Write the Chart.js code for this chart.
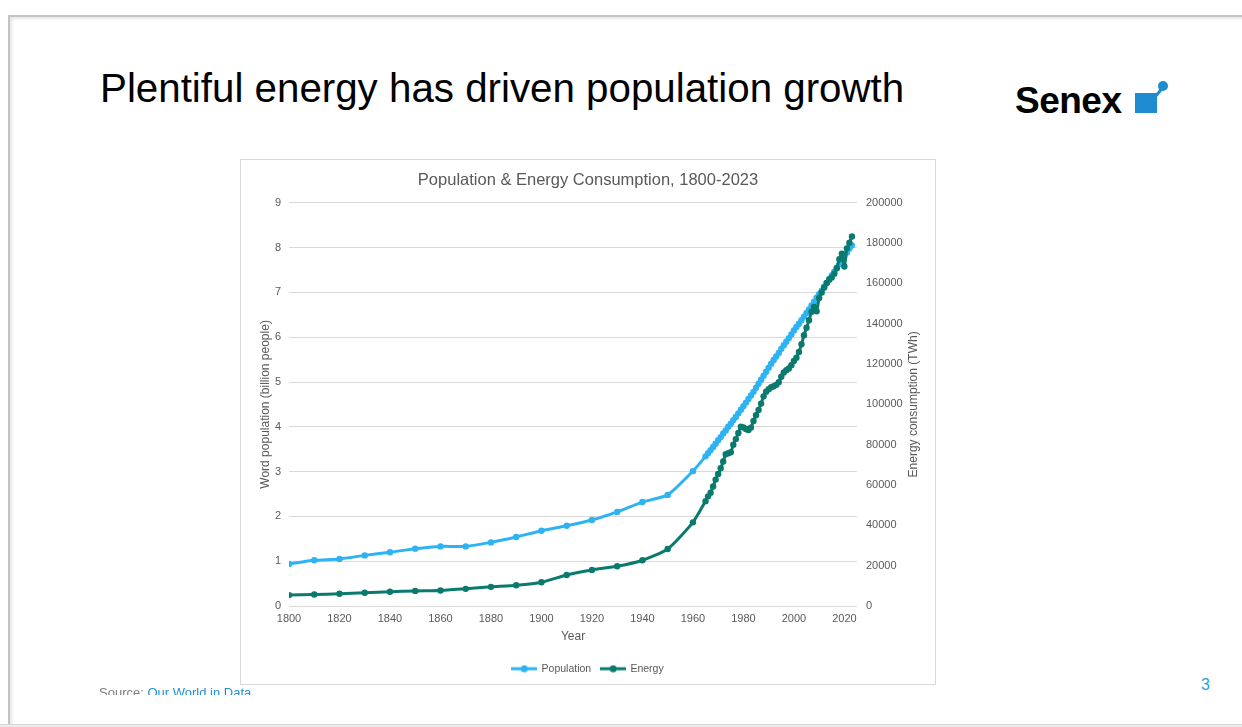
<!DOCTYPE html>
<html>
<head>
<meta charset="utf-8">
<script src="https://cdn.jsdelivr.net/npm/chart.js@4/dist/chart.umd.min.js"></script>
<style>
  html, body { margin: 0; padding: 0; background: #fff; }
  body { width: 1242px; height: 727px; position: relative; overflow: hidden; font-family: "Liberation Sans", Arial, sans-serif; }
  .slide { position: absolute; left: 8px; top: 15px; width: 1300px; height: 708px; border-left: 2px solid #c4c4c4; border-top: 2px solid #c4c4c4; box-shadow: inset 2px 2px 3px rgba(0,0,0,0.10); }
  .bottom { position: absolute; left: 0; top: 724px; width: 1242px; height: 3px; background: #ececec; border-top: 1px solid #d8d8d8; }
  .title { position: absolute; left: 100px; top: 69px; font-size: 40.3px; line-height: 1; color: #000; white-space: nowrap; }
  .logo { position: absolute; left: 1015px; top: 82px; font-size: 37px; line-height: 1; font-weight: bold; color: #000; letter-spacing: -0.5px; }
  .mark { position: absolute; left: 1135px; top: 93px; width: 22px; height: 20px; background: #1e8bd0; }
  .stem { position: absolute; left: 1153px; top: 85px; width: 3px; height: 12px; background: #1e8bd0; transform: rotate(40deg); transform-origin: bottom left; }
  .dot { position: absolute; left: 1158px; top: 81px; width: 10px; height: 10px; border-radius: 50%; background: #1e8bd0; }
  .box { position: absolute; left: 241px; top: 160px; width: 694px; height: 524px; outline: 1px solid #d9d9d9; }
  .source { position: absolute; left: 99px; top: 680px; width: 300px; height: 15px; overflow: hidden; }
  .source span { position: absolute; top: 5.5px; left: 0; font-size: 13px; line-height: 1; color: #808080; white-space: nowrap; }
  .source b { font-weight: normal; color: #1f8fd6; }
  .page { position: absolute; left: 1201px; top: 677px; font-size: 16px; line-height: 1; color: #2a9fd8; }
</style>
</head>
<body>
<div class="slide"></div>
<div class="bottom"></div>
<div class="title">Plentiful energy has driven population growth</div>
<div class="logo">Senex</div>
<div class="mark"></div>
<div class="stem"></div>
<div class="dot"></div>
<div class="box"><canvas id="chart" width="694" height="524"></canvas></div>
<div class="source"><span>Source: <b>Our World in Data</b></span></div>
<div class="page">3</div>
<script>
const years = [1800, 1810, 1820, 1830, 1840, 1850, 1860, 1870, 1880, 1890, 1900, 1910, 1920, 1930, 1940, 1950, 1960,
  1965, 1966, 1967, 1968, 1969, 1970, 1971, 1972, 1973, 1974, 1975, 1976, 1977, 1978, 1979,
  1980, 1981, 1982, 1983, 1984, 1985, 1986, 1987, 1988, 1989, 1990, 1991, 1992, 1993, 1994,
  1995, 1996, 1997, 1998, 1999, 2000, 2001, 2002, 2003, 2004, 2005, 2006, 2007, 2008, 2009,
  2010, 2011, 2012, 2013, 2014, 2015, 2016, 2017, 2018, 2019, 2020, 2021, 2022, 2023];

// billion people
const population = [0.94, 1.02, 1.05, 1.13, 1.20, 1.28, 1.33, 1.33, 1.42, 1.54, 1.68, 1.79, 1.92, 2.10, 2.32, 2.48, 3.01,
  3.34, 3.41, 3.48, 3.55, 3.62, 3.70, 3.77, 3.85, 3.92, 4.00, 4.07, 4.15, 4.22, 4.30, 4.38,
  4.46, 4.54, 4.62, 4.70, 4.78, 4.87, 4.96, 5.05, 5.14, 5.23, 5.32, 5.41, 5.49, 5.57, 5.65,
  5.74, 5.82, 5.90, 5.98, 6.06, 6.15, 6.23, 6.30, 6.38, 6.46, 6.54, 6.62, 6.71, 6.79, 6.88,
  6.96, 7.04, 7.13, 7.21, 7.30, 7.38, 7.46, 7.55, 7.63, 7.71, 7.82, 7.89, 7.98, 8.05];

// TWh
const energy = [5400, 5700, 6050, 6550, 7050, 7500, 7700, 8500, 9500, 10300, 11800, 15400, 17900, 19700, 22700, 28300, 41500,
  52000, 54400, 56200, 59300, 62700, 65500, 68300, 71700, 75300, 75800, 76300, 80000, 82800, 85800, 89000,
  88600, 87800, 87300, 88500, 91800, 94600, 97200, 100400, 104000, 106300, 107500, 108500, 109000, 109700, 111000,
  113700, 115800, 117000, 117800, 119400, 121500, 123200, 126000, 129800, 134300, 138000, 141800, 146000, 148400, 146200,
  152800, 155500, 158000, 160200, 161800, 163000, 164800, 167500, 172000, 174800, 168400, 177400, 180200, 183300];

const yearTicks = [1800, 1820, 1840, 1860, 1880, 1900, 1920, 1940, 1960, 1980, 2000, 2020];

const popColor = '#2db3f3';
const energyColor = '#0b7a6e';
const textColor = '#595959';
const rightTitle = 'Energy consumption (TWh)';

Chart.defaults.font.family = '"Liberation Sans", Arial, sans-serif';
Chart.defaults.color = textColor;

function legendMarker(color) {
  const c = document.createElement('canvas');
  c.width = 26;
  c.height = 8;
  const g = c.getContext('2d');
  g.strokeStyle = color;
  g.lineWidth = 3;
  g.beginPath();
  g.moveTo(0, 4);
  g.lineTo(26, 4);
  g.stroke();
  g.fillStyle = color;
  g.beginPath();
  g.arc(13, 4, 3.5, 0, Math.PI * 2);
  g.fill();
  return c;
}

// right axis title reads bottom-to-top like the left one
const rightTitlePlugin = {
  id: 'rightTitle',
  afterDraw(chart) {
    const { ctx, chartArea } = chart;
    ctx.save();
    ctx.translate(chart.width - 21, (chartArea.top + chartArea.bottom) / 2);
    ctx.rotate(-Math.PI / 2);
    ctx.font = '12px "Liberation Sans", Arial, sans-serif';
    ctx.fillStyle = textColor;
    ctx.textAlign = 'center';
    ctx.textBaseline = 'middle';
    ctx.fillText(rightTitle, 0, 0);
    ctx.restore();
  },
};

const ctx = document.getElementById('chart').getContext('2d');

new Chart(ctx, {
  type: 'line',
  data: {
    datasets: [
      {
        label: 'Population',
        data: years.map((x, i) => ({ x, y: population[i] })),
        yAxisID: 'y',
        borderColor: popColor,
        backgroundColor: popColor,
        borderWidth: 3,
        pointRadius: 3.2,
        pointBorderWidth: 0,
        tension: 0.2,
        order: 1,
      },
      {
        label: 'Energy',
        data: years.map((x, i) => ({ x, y: energy[i] })),
        yAxisID: 'y2',
        borderColor: energyColor,
        backgroundColor: energyColor,
        borderWidth: 3,
        pointRadius: 3.2,
        pointBorderWidth: 0,
        tension: 0.2,
        order: 0,
      },
    ],
  },
  plugins: [rightTitlePlugin],
  options: {
    responsive: false,
    animation: false,
    layout: { padding: 0 },
    plugins: {
      title: {
        display: true,
        text: 'Population & Energy Consumption, 1800-2023',
        color: textColor,
        font: { size: 16.5, weight: 'normal' },
        padding: { top: 11, bottom: 12 },
      },
      legend: {
        position: 'bottom',
        labels: {
          usePointStyle: true,
          pointStyleWidth: 24,
          color: textColor,
          font: { size: 10.5 },
          padding: 10,
          generateLabels: chart => chart.data.datasets.map((ds, i) => ({
            text: ds.label,
            pointStyle: legendMarker(ds.borderColor),
            fillStyle: ds.borderColor,
            strokeStyle: ds.borderColor,
            lineWidth: 0,
            fontColor: textColor,
            hidden: !chart.isDatasetVisible(i),
            datasetIndex: i,
          })),
        },
      },
      tooltip: { enabled: false },
    },
    scales: {
      x: {
        type: 'linear',
        min: 1800,
        max: 2025,
        grid: { display: false, drawTicks: false },
        border: { display: false },
        ticks: { padding: 6, font: { size: 11 }, color: textColor, maxRotation: 0, callback: v => String(v) },
        afterBuildTicks: scale => { scale.ticks = yearTicks.map(value => ({ value })); },
        afterFit: scale => { scale.height = 47.5; },
        title: { display: true, text: 'Year', color: textColor, font: { size: 12 }, padding: { top: 0, bottom: 10 } },
      },
      y: {
        position: 'left',
        min: 0,
        max: 9,
        grid: { color: '#d9d9d9', drawTicks: false },
        border: { display: false },
        ticks: { stepSize: 1, padding: 8, font: { size: 11 }, color: textColor },
        afterFit: scale => { scale.width = 48; },
        title: { display: true, text: 'Word population (billion people)', color: textColor, font: { size: 12 }, padding: { top: 17, bottom: 0 } },
      },
      y2: {
        position: 'right',
        min: 0,
        max: 200000,
        grid: { display: false, drawTicks: false },
        border: { display: false },
        ticks: { stepSize: 20000, padding: 9, font: { size: 11 }, color: textColor, callback: v => String(v) },
        afterFit: scale => { scale.width = 78; },
        title: { display: false },
      },
    },
  },
});
</script>
</body>
</html>
